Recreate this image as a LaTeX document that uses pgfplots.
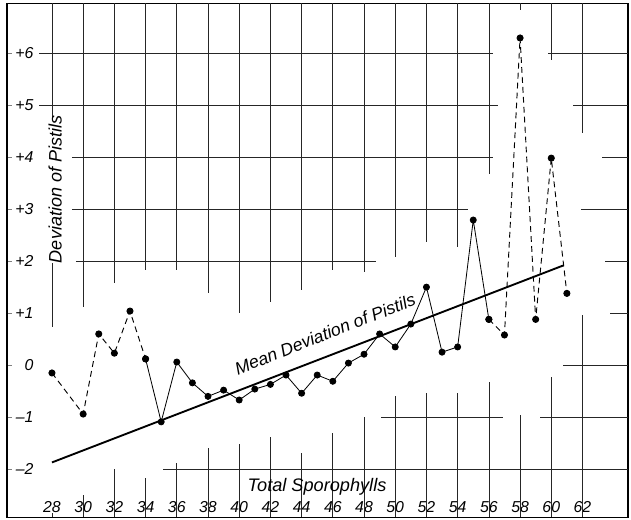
\documentclass[border=0pt]{standalone}
\usepackage{fontspec}
\setmainfont{Liberation Sans}
\usepackage{pgfplots}
\pgfplotsset{compat=1.18}
\begin{document}
\begin{tikzpicture}
\begin{axis}[
  scale only axis,
  width=18.63cm, height=15.42cm,
  xmin=25.115, xmax=64.92,
  ymin=-2.923, ymax=6.96,
  clip=false,
  axis line style={line width=1pt},
  xtick={28,30,...,62},
  xtick style={draw=none},
  xticklabel style={anchor=base, yshift=0.14cm, font=\fontsize{13.5}{13.5}\selectfont\itshape},
  ytick={-2,-1,...,6},
  yticklabels={–2,–1,0,+1,+2,+3,+4,+5,+6},
  ytick pos=left,
  tick align=inside,
  major tick length=0.16cm,
  ytick style={line width=0.7pt},
  yticklabel style={anchor=east, inner sep=0pt, xshift=0.8cm, font=\fontsize{13.5}{13.5}\selectfont\itshape},
  /pgf/number format/assume math mode=true,
]
% extend bounding box
\path (axis cs:24.67,-2.96) (axis cs:65.11,7.02);

% ---- partial grid (hand-drawn style) ----
\begin{scope}[line width=0.6pt, black!85]
% verticals from top
\draw (axis cs:28,6.96) -- (axis cs:28,4.75);
\draw (axis cs:28,1.96) -- (axis cs:28,0.73);
\draw (axis cs:30,6.96) -- (axis cs:30,1.12);
\draw (axis cs:32,6.96) -- (axis cs:32,1.58);
\draw (axis cs:34,6.96) -- (axis cs:34,1.83);
\draw (axis cs:36,6.96) -- (axis cs:36,1.83);
\draw (axis cs:38,6.96) -- (axis cs:38,1.38);
\draw (axis cs:40,6.96) -- (axis cs:40,1.00);
\draw (axis cs:42,6.96) -- (axis cs:42,1.21);
\draw (axis cs:44,6.96) -- (axis cs:44,1.44);
\draw (axis cs:46,6.96) -- (axis cs:46,1.83);
\draw (axis cs:48,6.96) -- (axis cs:48,1.79);
\draw (axis cs:50,6.96) -- (axis cs:50,2.08);
\draw (axis cs:52,6.96) -- (axis cs:52,2.37);
\draw (axis cs:54,6.96) -- (axis cs:54,2.27);
\draw (axis cs:56,6.96) -- (axis cs:56,3.67);
\draw (axis cs:58,6.96) -- (axis cs:58,6.83);
\draw (axis cs:60,6.96) -- (axis cs:60,5.87);
\draw (axis cs:62,6.96) -- (axis cs:62,4.46);
% verticals from bottom
\draw (axis cs:28,-2.923) -- (axis cs:28,-2.84);
\draw (axis cs:30,-2.923) -- (axis cs:30,-2.50);
\draw (axis cs:32,-2.923) -- (axis cs:32,-2.00);
\draw (axis cs:34,-2.923) -- (axis cs:34,-2.17);
\draw (axis cs:36,-2.923) -- (axis cs:36,-1.88);
\draw (axis cs:38,-2.923) -- (axis cs:38,-1.60);
\draw (axis cs:40,-2.923) -- (axis cs:40,-1.52);
\draw (axis cs:42,-2.923) -- (axis cs:42,-1.38);
\draw (axis cs:44,-2.923) -- (axis cs:44,-1.69);
\draw (axis cs:46,-2.923) -- (axis cs:46,-1.31);
\draw (axis cs:48,-2.923) -- (axis cs:48,-1.00);
\draw (axis cs:50,-2.923) -- (axis cs:50,-0.60);
\draw (axis cs:52,-2.923) -- (axis cs:52,-0.54);
\draw (axis cs:54,-2.923) -- (axis cs:54,-0.54);
\draw (axis cs:56,-2.923) -- (axis cs:56,-0.33);
\draw (axis cs:58,-2.923) -- (axis cs:58,-0.96);
\draw (axis cs:60,-2.923) -- (axis cs:60,-0.23);
\draw (axis cs:62,-2.923) -- (axis cs:62,0.96);
% horizontals
\draw (axis cs:27.17,6) -- (axis cs:56.27,6);
\draw (axis cs:59.80,6) -- (axis cs:64.92,6);
\draw (axis cs:27.17,5) -- (axis cs:56.60,5);
\draw (axis cs:61.40,5) -- (axis cs:64.92,5);
\draw (axis cs:29.28,4) -- (axis cs:56.27,4);
\draw (axis cs:63.26,4) -- (axis cs:64.92,4);
\draw (axis cs:29.28,3) -- (axis cs:54.67,3);
\draw (axis cs:61.90,3) -- (axis cs:64.92,3);
\draw (axis cs:29.54,2) -- (axis cs:48.77,2);
\draw (axis cs:63.45,2) -- (axis cs:64.92,2);
\draw (axis cs:63.77,1) -- (axis cs:64.92,1);
\draw (axis cs:60.76,0) -- (axis cs:64.92,0);
\draw (axis cs:49.09,-1) -- (axis cs:56.90,-1);
\draw (axis cs:59.28,-1) -- (axis cs:64.92,-1);
\draw (axis cs:35.12,-2) -- (axis cs:64.92,-2);
\end{scope}

% ---- mean deviation line ----
\addplot[line width=1.6pt, no marks] coordinates {(28,-1.87) (60.8,1.92)};

% ---- deviation of pistils ----
\addplot[line width=0.8pt, dash pattern=on 5pt off 3.5pt, mark=*, mark size=2.6pt,
  mark options={solid, fill=black}] coordinates {
(28,-0.15) (30,-0.94) (31,0.60) (32,0.23) (33,1.04) (34,0.12)};
\addplot[line width=0.7pt, mark=*, mark size=2.6pt, mark options={fill=black}] coordinates {
(34,0.12) (35,-1.09) (36,0.06) (37,-0.34) (38,-0.60) (39,-0.48) (40,-0.67)
(41,-0.46) (42,-0.37) (43,-0.19) (44,-0.54) (45,-0.19) (46,-0.31) (47,0.04)
(48,0.21) (49,0.60) (50,0.35) (51,0.79) (52,1.50) (53,0.25) (54,0.35)
(55,2.79) (56,0.88)};
\addplot[line width=0.8pt, dash pattern=on 5pt off 3.5pt, mark=*, mark size=2.6pt,
  mark options={solid, fill=black}] coordinates {
(56,0.88) (57,0.58) (58,6.29) (59,0.88) (60,3.98) (61,1.38)};

% ---- labels ----
\node[rotate=90, font=\fontsize{15.4}{15.4}\selectfont\itshape] at (axis cs:28.2,3.38) {Deviation of Pistils};
\node[font=\fontsize{15.5}{15.5}\selectfont\itshape] at (axis cs:44.99,-2.33) {Total Sporophylls};
\node[rotate=21.5, font=\fontsize{15}{15}\selectfont\itshape] at (axis cs:45.5,0.6) {Mean Deviation of Pistils};
\end{axis}
\end{tikzpicture}
\end{document}
